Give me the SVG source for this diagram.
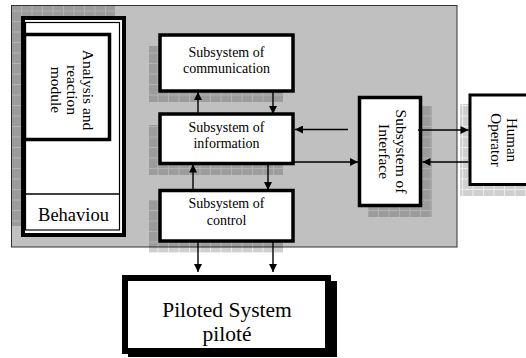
<svg xmlns="http://www.w3.org/2000/svg" width="526" height="358" viewBox="0 0 526 358">
  <defs>
    <!-- fine grain used inside the shadow cells -->
    <pattern id="grain" width="2" height="2" patternUnits="userSpaceOnUse">
      <rect width="2" height="2" fill="#000" fill-opacity="0.08"/>
      <rect width="1" height="1" fill="#000" fill-opacity="0.10"/>
      <rect x="1" y="1" width="1" height="1" fill="#000" fill-opacity="0.10"/>
    </pattern>
    <!-- tiled drop shadow: grainy cells separated by slightly lighter grid lines -->
    <pattern id="hatch" width="10.5" height="10.5" patternUnits="userSpaceOnUse">
      <rect width="10.5" height="10.5" fill="#000" fill-opacity="0.07"/>
      <rect x="1" y="1" width="9.5" height="9.5" fill="url(#grain)"/>
    </pattern>
    <marker id="ah" viewBox="0 0 10 10" refX="10" refY="5" markerWidth="9" markerHeight="8" markerUnits="userSpaceOnUse" orient="auto">
      <path d="M0,0 L10,5 L0,10 z" fill="#000"/>
    </marker>
    <style>
      .txt { font-family: "Liberation Serif", "Times New Roman", serif; fill: #000; }
      .sub { font-size: 14px; text-anchor: middle; }
      .vert { font-size: 15.5px; text-anchor: middle; }
      .box { fill: #fff; stroke: #000; stroke-width: 3.5; }
      .shadow { fill: url(#hatch); }
      .conn { stroke: #000; stroke-width: 1.4; fill: none; marker-end: url(#ah); }
    </style>
  </defs>

  <!-- grey system frame -->
  <rect x="11.5" y="5.5" width="445.5" height="241.5" fill="#c0c0c0" stroke="#333" stroke-width="1"/>

  <!-- behaviour module (left) -->
  <g id="behaviour">
    <rect class="shadow" x="11" y="6" width="104" height="220"/>
    <rect x="23" y="18" width="101" height="217" fill="#fff" stroke="#000" stroke-width="4"/>
    <rect x="25.5" y="22.5" width="94" height="207.5" fill="none" stroke="#000" stroke-width="1.2"/>
    <line x1="25.5" y1="194" x2="119.5" y2="194" stroke="#000" stroke-width="1.3"/>
    <text class="txt" x="73.5" y="221" font-size="18.5" text-anchor="middle">Behaviou</text>
  </g>

  <g id="analysis">
    <rect x="24.5" y="34.5" width="85" height="105" fill="#fff" stroke="#000" stroke-width="3.5"/>
    <g transform="translate(0,90) rotate(90)">
      <text class="txt vert" x="0" y="-83">Analysis and</text>
      <text class="txt vert" x="0" y="-67">reaction</text>
      <text class="txt vert" x="0" y="-51">module</text>
    </g>
  </g>

  <g id="communication">
    <rect class="shadow" x="149" y="46" width="134" height="56"/>
    <rect class="box" x="160" y="35" width="133" height="56"/>
    <text class="txt sub" x="226.5" y="57">Subsystem of</text>
    <text class="txt sub" x="226.5" y="73">communication</text>
  </g>

  <g id="information">
    <rect class="shadow" x="149" y="125" width="134" height="50"/>
    <rect class="box" x="160" y="114" width="133" height="49.5"/>
    <text class="txt sub" x="226.5" y="132">Subsystem of</text>
    <text class="txt sub" x="226.5" y="148">information</text>
  </g>

  <g id="control">
    <rect class="shadow" x="149" y="200" width="134" height="53"/>
    <rect class="box" x="160" y="190.5" width="133" height="50.5"/>
    <text class="txt sub" x="226.5" y="208">Subsystem of</text>
    <text class="txt sub" x="226.5" y="225">control</text>
  </g>

  <g id="interface">
    <rect class="shadow" x="368" y="106" width="64" height="111"/>
    <rect class="box" x="359.5" y="97.5" width="61" height="108"/>
    <g transform="translate(0,151.5) rotate(90)">
      <text class="txt vert" x="0" y="-396">Subsystem of</text>
      <text class="txt vert" x="0" y="-379">Interface</text>
    </g>
  </g>

  <g id="human-operator">
    <rect class="shadow" x="460" y="104" width="70" height="92"/>
    <rect x="470" y="95" width="60" height="89.5" fill="#fff" stroke="#000" stroke-width="3"/>
    <g transform="translate(0,140) rotate(90)">
      <text class="txt" x="0" y="-507" font-size="15" text-anchor="middle">Human</text>
      <text class="txt" x="0" y="-491" font-size="15" text-anchor="middle">Operator</text>
    </g>
  </g>

  <g id="piloted-system">
    <rect x="128" y="281" width="209" height="76" fill="#000"/>
    <rect x="125" y="278" width="203" height="73" fill="#fff" stroke="#000" stroke-width="6"/>
    <text class="txt" x="227" y="317" font-size="21.5" text-anchor="middle">Piloted System</text>
    <text class="txt" x="227" y="341" font-size="21.5" text-anchor="middle">piloté</text>
  </g>

  <g id="connectors">
    <path class="conn" d="M198 114 V92"/>
    <path class="conn" d="M273 91 V114"/>
    <path class="conn" d="M193 190 V164.5"/>
    <path class="conn" d="M268 164 V190"/>
    <path class="conn" d="M198 241 V272"/>
    <path class="conn" d="M273 241 V272"/>
    <path class="conn" d="M348 129.5 H295"/>
    <path class="conn" d="M293 162 H358"/>
    <path class="conn" d="M418 130 H468.5"/>
    <path class="conn" d="M468.5 162 H422.5"/>
  </g>
</svg>
